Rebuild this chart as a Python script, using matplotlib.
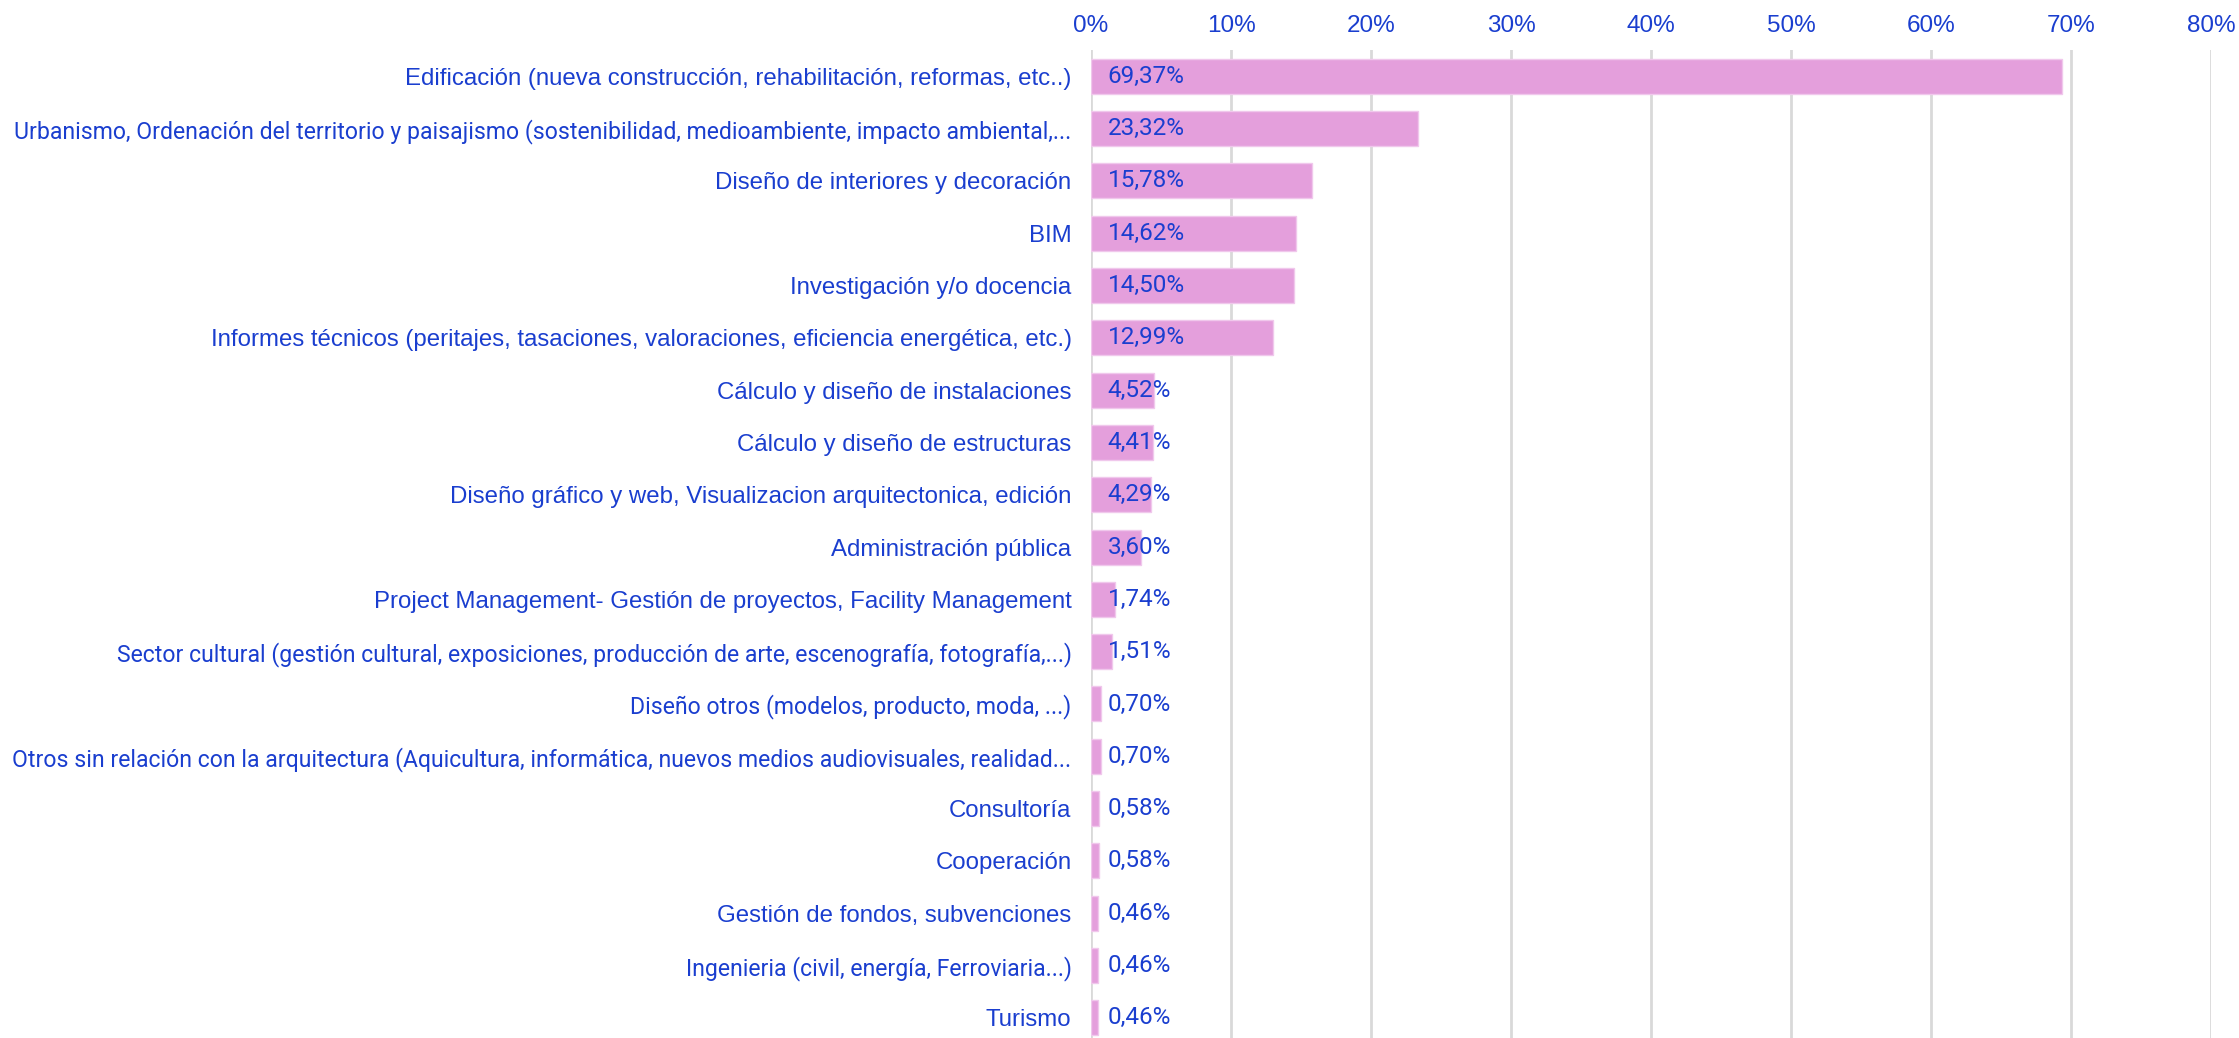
import matplotlib
matplotlib.use("Agg")
from matplotlib import pyplot

# Data
categories = [
    "Edificación (nueva construcción, rehabilitación, reformas, etc..)",
    "Urbanismo, Ordenación del territorio y paisajismo (sostenibilidad, medioambiente, impacto ambiental,...",
    "Diseño de interiores y decoración",
    "BIM",
    "Investigación y/o docencia",
    "Informes técnicos (peritajes, tasaciones, valoraciones, eficiencia energética, etc.)",
    "Cálculo y diseño de instalaciones",
    "Cálculo y diseño de estructuras",
    "Diseño gráfico y web, Visualizacion arquitectonica, edición",
    "Administración pública",
    "Project Management- Gestión de proyectos, Facility Management",
    "Sector cultural (gestión cultural, exposiciones, producción de arte, escenografía, fotografía,...)",
    "Diseño otros (modelos, producto, moda, ...)",
    "Otros sin relación con la arquitectura (Aquicultura, informática, nuevos medios audiovisuales, realidad...",
    "Consultoría",
    "Cooperación",
    "Gestión de fondos, subvenciones",
    "Ingenieria (civil, energía, Ferroviaria...)",
    "Turismo",
]
values = [69.37, 23.32, 15.78, 14.62, 14.50, 12.99, 4.52, 4.41, 4.29, 3.60,
          1.74, 1.51, 0.70, 0.70, 0.58, 0.58, 0.46, 0.46, 0.46]
# labels drawn in the narrow (DIN-like) face in the original
narrow_labels = [1, 11, 12, 13, 17]
xticks = [0, 10, 20, 30, 40, 50, 60, 70, 80]

text_color = "#1a3ecf"
bar_color = "#e49fdc"
grid_color = "#d9d9d9"
wide_font = "Liberation Sans"
narrow_font = "Roboto"

fig = pyplot.figure(figsize=(22.39, 10.38), dpi=100)
ax = fig.add_axes([0.4873, -0.0058, 0.5002, 0.9576])

ypos = list(range(len(values)))
ax.barh(ypos, values, height=0.67, color=bar_color, edgecolor="#f0c8ec",
        linewidth=1, zorder=2)

ax.set_xlim(0, 80)
ax.set_ylim(len(values) - 0.5, -0.5)

ax.set_xticks(xticks)
ax.set_xticklabels([f"{t}%" for t in xticks])
ax.xaxis.tick_top()
ax.tick_params(axis="x", length=0, pad=9.5, labelsize=17.5, labelcolor=text_color)
for lab in ax.get_xticklabels():
    lab.set_fontfamily(wide_font)
ax.grid(axis="x", color=grid_color, linewidth=2, zorder=0)
ax.set_axisbelow(True)

ax.set_yticks(ypos)
ax.set_yticklabels(categories)
ax.tick_params(axis="y", length=0, pad=14, labelsize=17.3, labelcolor=text_color)
for i, lab in enumerate(ax.get_yticklabels()):
    if i in narrow_labels:
        lab.set_fontfamily(narrow_font)
        lab.set_fontsize(16.6)
    else:
        lab.set_fontfamily(wide_font)

for spine in ax.spines.values():
    spine.set_visible(False)

for y, v in zip(ypos, values):
    ax.annotate(f"{v:.2f}%".replace(".", ","), xy=(0, y), xytext=(12, 0),
                textcoords="offset points", va="center", ha="left",
                fontsize=17.5, family=narrow_font, color=text_color, zorder=3)

fig.savefig("out.png", dpi=100)
